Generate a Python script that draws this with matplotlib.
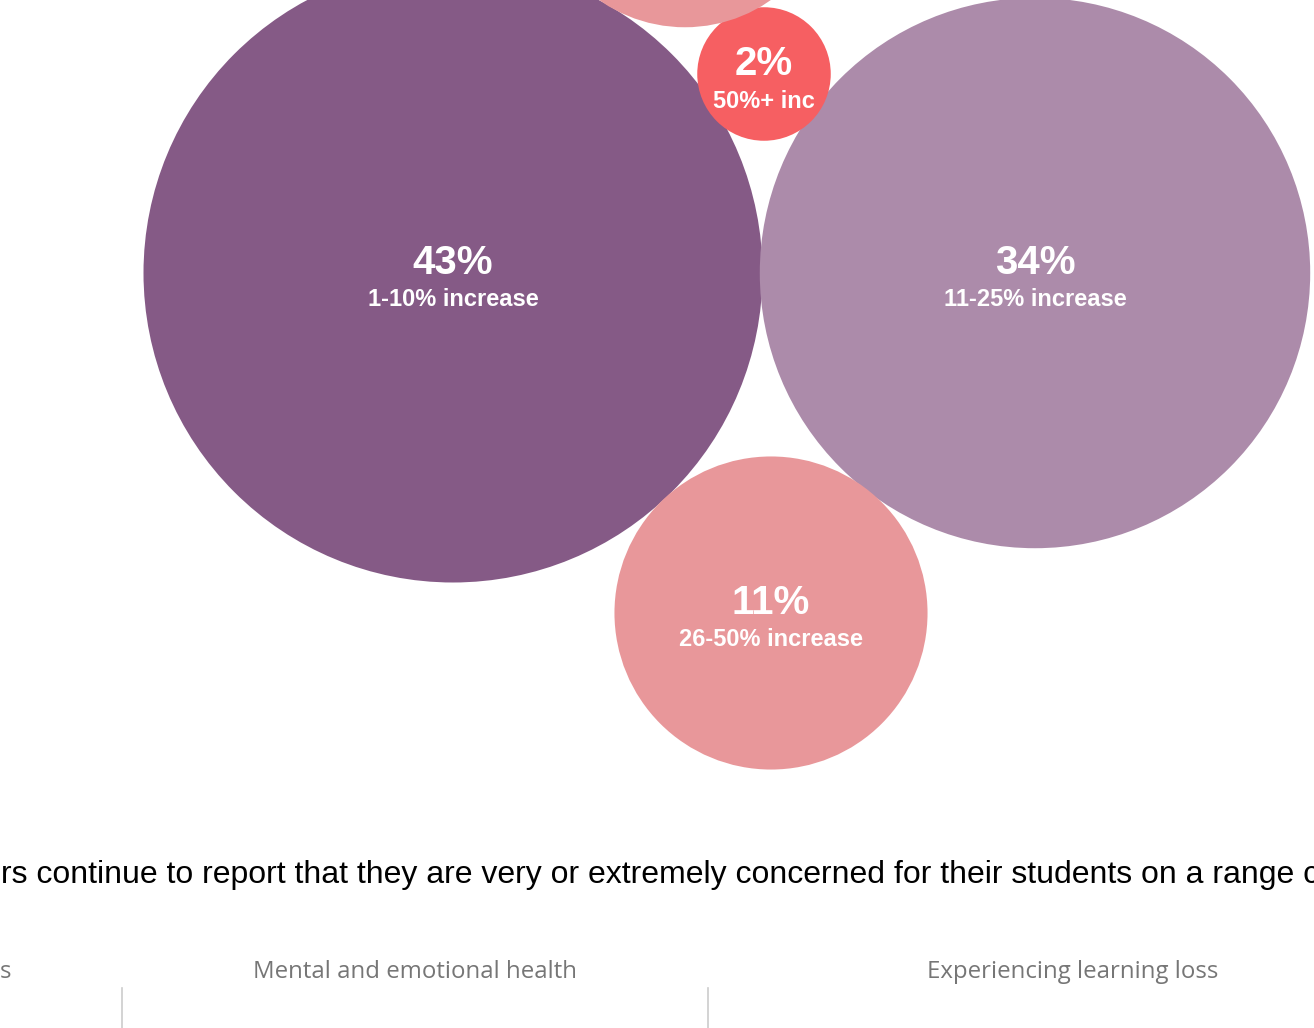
import numpy as np
import matplotlib
matplotlib.use("Agg")
import matplotlib.pyplot as plt
from matplotlib.patches import Circle

# share of teachers by expected increase
shares = [43, 34, 11, 2, 10]
labels = ["1-10% increase", "11-25% increase", "26-50% increase", "50%+ inc", "No increase"]
colors = ["#855A86", "#AC8BAA", "#E8979A", "#F65F62", "#E8979A"]

# packed bubble layout (pixel coords)
centers = [(453, 273), (1035, 273), (771, 613), (764, 74), (685, -122)]

headline = "rs continue to report that they are very or extremely concerned for their students on a range c"
concerns = ["s", "Mental and emotional health", "Experiencing learning loss"]
concern_x = [0, 415, 1073]
divider_x = [122, 708]

W, H = 1314, 1028
fig = plt.figure(figsize=(W / 100, H / 100), dpi=100)
ax = fig.add_axes([0, 0, 1, 1])
ax.set_xlim(0, W)
ax.set_ylim(H, 0)
ax.set_aspect("equal")
ax.axis("off")

# radius scaled so that area follows the share
k = 309.5 / np.sqrt(43)
for share, lab, col, (cx, cy) in zip(shares, labels, colors, centers):
    r = k * np.sqrt(share)
    ax.add_patch(Circle((cx, cy), r, facecolor=col, edgecolor="none"))
    if cy < 0:
        # label sits above the visible area
        continue
    ax.text(cx, cy - 10, f"{share}%", ha="center", va="center", color="white",
            fontsize=29, fontweight="bold", family="Liberation Sans")
    ax.text(cx, cy + 27, lab, ha="center", va="center", color="white",
            fontsize=17, fontweight="bold", family="Liberation Sans")

ax.text(1, 875, headline, ha="left", va="center", color="black",
        fontsize=23, family="Liberation Sans")

for txt, x in zip(concerns, concern_x):
    ax.text(x, 972, txt, ha="left" if x == 0 else "center", va="center",
            color="#767676", fontsize=17.3, family="Open Sans")

for x in divider_x:
    ax.plot([x, x], [988, H], color="#CCCCCC", lw=1.2)

fig.savefig("out.png", dpi=100)
